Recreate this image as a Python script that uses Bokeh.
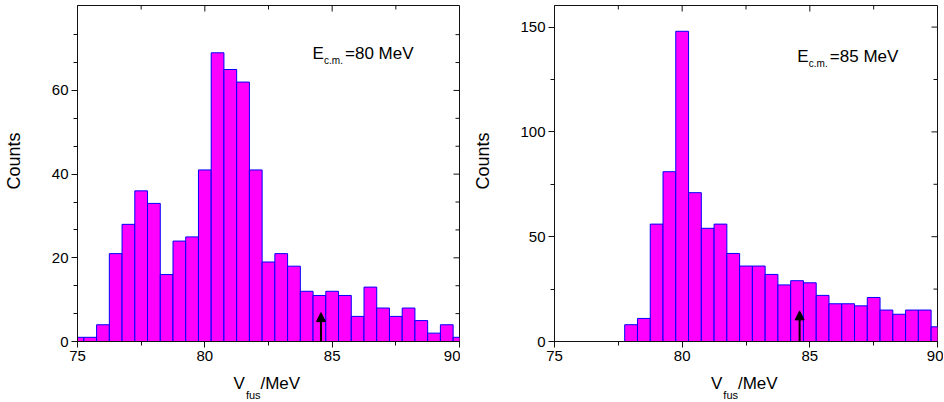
import math
from bokeh.plotting import figure
from bokeh.layouts import row
from bokeh.models import (Label, Arrow, NormalHead, LinearAxis, FixedTicker,
                          Range1d, ColumnDataSource)
from bokeh.embed import file_html
from bokeh.resources import INLINE

# ---------------- data ----------------
bin_width = 0.5
left_centers = [75.0, 75.5, 76.0, 76.5, 77.0, 77.5, 78.0, 78.5, 79.0, 79.5,
                80.0, 80.5, 81.0, 81.5, 82.0, 82.5, 83.0, 83.5, 84.0, 84.5,
                85.0, 85.5, 86.0, 86.5, 87.0, 87.5, 88.0, 88.5, 89.0, 89.5, 90.0]
left_counts = [1, 1, 4, 21, 28, 36, 33, 16, 24, 25,
               41, 69, 65, 62, 41, 19, 21, 18, 12, 11,
               12, 11, 6, 13, 8, 6, 8, 5, 2, 4, 1]

right_centers = [78.0, 78.5, 79.0, 79.5, 80.0, 80.5, 81.0, 81.5, 82.0, 82.5,
                 83.0, 83.5, 84.0, 84.5, 85.0, 85.5, 86.0, 86.5, 87.0, 87.5,
                 88.0, 88.5, 89.0, 89.5, 90.0]
right_counts = [8, 11, 56, 81, 148, 71, 54, 56, 42, 36,
                36, 32, 27, 29, 28, 22, 18, 18, 17, 21,
                15, 13, 15, 15, 7]

x_ticks = [75, 80, 85, 90]
left_yticks = [0, 20, 40, 60]
right_yticks = [0, 50, 100, 150]

left_energy = "80 MeV"
right_energy = "85 MeV"
left_arrow_x, left_arrow_top = 84.56, 6.9
right_arrow_x, right_arrow_top = 84.6, 14.6

FONT = "Liberation Sans"
INK = "#111111"
NBSP = "\u00a0"


def minor_of(ticks, n_sub, hi):
    step = ticks[1] - ticks[0]
    out = []
    for t in ticks:
        for k in range(1, n_sub):
            m = t + step * k / n_sub
            if m < hi:
                out.append(m)
    return out


def text_axis(ticks, overrides, size, standoff):
    ax = LinearAxis(ticker=FixedTicker(ticks=ticks, minor_ticks=[]))
    ax.major_label_overrides = overrides
    ax.axis_line_color = None
    ax.major_tick_line_color = None
    ax.minor_tick_line_color = None
    ax.major_tick_out = 0
    ax.major_tick_in = 0
    ax.minor_tick_out = 0
    ax.minor_tick_in = 0
    ax.major_label_text_font = FONT
    ax.major_label_text_font_size = size
    ax.major_label_text_color = "#000000"
    ax.major_label_standoff = standoff
    return ax


def make_panel(centers, counts, ymax, yticks, n_sub, energy, ex, ey,
               arrow_x, arrow_top, border_left, border_right, frame_w,
               counts_standoff):
    p = figure(width=border_left + frame_w + border_right, height=402,
               frame_width=frame_w, frame_height=336,
               min_border_left=border_left, min_border_right=border_right,
               min_border_top=5, min_border_bottom=61,
               x_range=Range1d(75, 90), y_range=Range1d(0, ymax),
               output_backend="svg", toolbar_location=None,
               x_axis_type=None, y_axis_type=None)
    p.background_fill_color = "white"
    p.border_fill_color = "white"
    p.outline_line_color = INK
    p.xgrid.visible = False
    p.ygrid.visible = False

    src = ColumnDataSource(dict(
        left=[c - bin_width / 2 for c in centers],
        right=[c + bin_width / 2 for c in centers],
        top=counts, bottom=[0] * len(counts)))
    p.quad(left="left", right="right", top="top", bottom="bottom", source=src,
           fill_color="#FF00FF", line_color="#0000FF", line_width=1)

    x_minor = minor_of(x_ticks, 2, 90)
    y_minor = minor_of(yticks, n_sub, ymax)
    xt = FixedTicker(ticks=x_ticks, minor_ticks=x_minor)
    yt = FixedTicker(ticks=yticks, minor_ticks=y_minor)

    def style(ax):
        ax.axis_line_color = INK
        ax.major_tick_line_color = INK
        ax.minor_tick_line_color = INK
        ax.major_tick_out = 6
        ax.major_tick_in = 0
        ax.minor_tick_out = 4
        ax.minor_tick_in = 0
        ax.major_label_text_font = FONT
        ax.major_label_text_font_size = "15px"
        ax.major_label_text_color = "#000000"
        ax.major_label_standoff = 3

    xb = LinearAxis(ticker=xt)
    style(xb)
    p.add_layout(xb, "below")
    yl = LinearAxis(ticker=yt, axis_label=NBSP * 5 + "Counts")
    style(yl)
    yl.axis_label_text_font = FONT
    yl.axis_label_text_font_size = "18px"
    yl.axis_label_text_font_style = "normal"
    yl.axis_label_text_color = "#000000"
    yl.axis_label_standoff = counts_standoff
    p.add_layout(yl, "left")

    # x axis title V_fus/MeV drawn as tick labels of bare extra axes
    v_x, fus_x, mev_x = 81.35, 81.9, 82.963
    p.add_layout(text_axis([v_x, mev_x], {v_x: "V", mev_x: "/MeV"}, "17px", 10), "below")
    p.add_layout(text_axis([fus_x], {fus_x: "fus"}, "11px", -7), "below")

    # mirrored inward ticks on the top and right frame edges
    p.ray(x=[90] * len(yticks), y=yticks, length=6, length_units="screen",
          angle=math.pi, line_color=INK, line_width=1)
    p.ray(x=[90] * len(y_minor), y=y_minor, length=4, length_units="screen",
          angle=math.pi, line_color=INK, line_width=1)
    p.ray(x=x_ticks, y=[ymax] * len(x_ticks), length=6, length_units="screen",
          angle=-math.pi / 2, line_color=INK, line_width=1)
    p.ray(x=x_minor, y=[ymax] * len(x_minor), length=4, length_units="screen",
          angle=-math.pi / 2, line_color=INK, line_width=1)

    # E_c.m. annotation
    c2 = dict(x=ex, y=ey, text_font=FONT, text_color="#000000",
              text_baseline="alphabetic", text_align="left")
    p.add_layout(Label(text="E", text_font_size="17px", **c2))
    p.add_layout(Label(text="c.m.", x_offset=11.5, y_offset=-7,
                       text_font_size="10px", **c2))
    p.add_layout(Label(text="=" + energy, x_offset=32.5,
                       text_font_size="17px", **c2))

    p.add_layout(Arrow(end=NormalHead(size=9, fill_color="black", line_color="black"),
                       x_start=arrow_x, y_start=0, x_end=arrow_x, y_end=arrow_top,
                       line_width=2, line_color="black"))
    return p


p1 = make_panel(left_centers, left_counts, 80.3, left_yticks, 3, left_energy,
                84.23, 68.9, left_arrow_x, left_arrow_top, 77, 1, 382, 25)
p2 = make_panel(right_centers, right_counts, 160.3, right_yticks, 2, right_energy,
                84.51, 135.8, right_arrow_x, right_arrow_top, 94, 6, 383, 24)

layout = row(p1, p2)
open("out.html", "w").write(file_html(layout, INLINE))
